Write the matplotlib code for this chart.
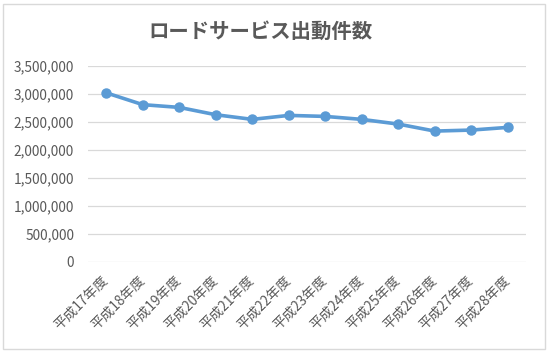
import matplotlib.pyplot as plt
from matplotlib.patches import Rectangle
from matplotlib.ticker import FuncFormatter

plt.rcParams['font.family'] = ['Noto Sans CJK JP', 'DejaVu Sans']

title = "ロードサービス出動件数"
years = ["平成17年度", "平成18年度", "平成19年度", "平成20年度", "平成21年度",
         "平成22年度", "平成23年度", "平成24年度", "平成25年度", "平成26年度",
         "平成27年度", "平成28年度"]
counts = [3015000, 2804000, 2755000, 2624000, 2541000, 2612000,
          2594000, 2541000, 2457000, 2332000, 2350000, 2398000]
yticks = [0, 500000, 1000000, 1500000, 2000000, 2500000, 3000000, 3500000]

text_col = "#595959"
grid_col = "#D9D9D9"
line_col = "#5B9BD5"

fig = plt.figure(figsize=(5.5, 3.56), dpi=100)
# 外枠
frame = Rectangle((0.006, 0.02), 0.985, 0.968, transform=fig.transFigure,
                  facecolor="none", edgecolor="#D9D9D9", linewidth=1, zorder=-1)
fig.patches.append(frame)

ax = fig.add_axes([0.16, 0.265, 0.7964, 0.5505])
x = list(range(len(years)))
ax.plot(x, counts, color=line_col, linewidth=2.6, marker="o", markersize=6.5,
        zorder=3)
ax.set_xlim(-0.5, len(years) - 0.5)
ax.set_ylim(0, 3500000)
ax.set_yticks(yticks)
ax.yaxis.set_major_formatter(FuncFormatter(lambda v, p: f"{int(v):,}"))
ax.set_xticks(x)
ax.set_xticklabels(years, rotation=45, ha="right", va="center",
                   rotation_mode="anchor")
ax.grid(axis="y", color=grid_col, linewidth=0.9)
ax.set_axisbelow(True)
for s in ax.spines.values():
    s.set_visible(False)
ax.tick_params(axis="both", length=0, colors=text_col, labelsize=9.8)
ax.tick_params(axis="y", pad=10)
ax.tick_params(axis="x", pad=12)
ax.patch.set_alpha(0)

fig.text(0.474, 0.913, title, ha="center", va="center", fontsize=14.7,
         fontweight="bold", color=text_col)

fig.savefig("out.png", dpi=100)
